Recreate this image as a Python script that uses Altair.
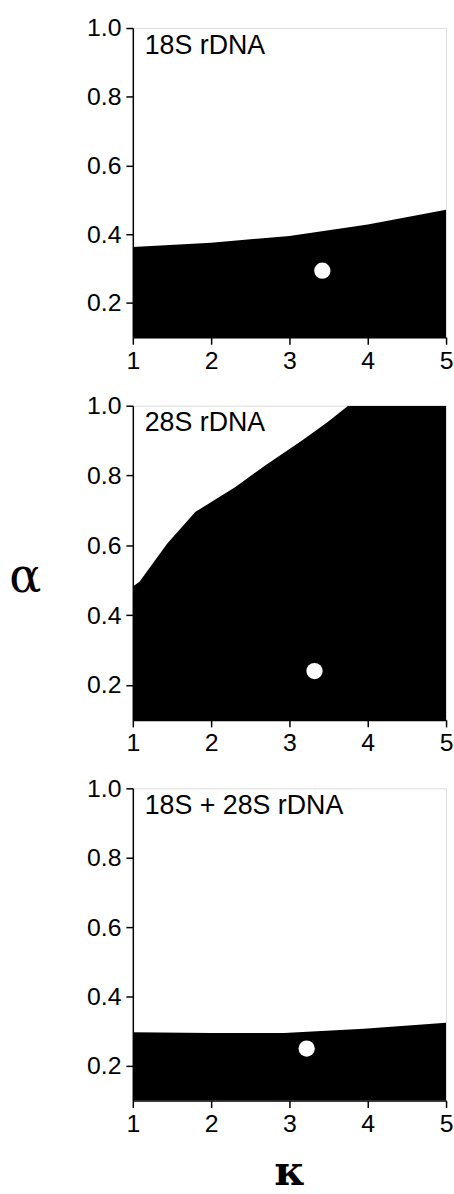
import altair as alt
import pandas as pd

# Panel 1: 18S rDNA
k1 = [1.0, 2.0, 3.0, 4.0, 5.0]
a1 = [0.363, 0.375, 0.395, 0.428, 0.471]
dot1 = (3.42, 0.294)

# Panel 2: 28S rDNA
k2 = [1.0, 1.085, 1.44, 1.80, 2.31, 2.69, 3.16, 3.48, 3.75, 5.0]
a2 = [0.482, 0.496, 0.605, 0.696, 0.767, 0.829, 0.90, 0.952, 1.0, 1.0]
dot2 = (3.32, 0.24)

# Panel 3: 18S + 28S rDNA
k3 = [1.0, 2.0, 2.93, 3.95, 5.0]
a3 = [0.297, 0.295, 0.295, 0.307, 0.324]
dot3 = (3.22, 0.25)

labels = ["18S rDNA", "28S rDNA", "18S + 28S rDNA"]
x_ticks = [1, 2, 3, 4, 5]
y_ticks = [0.2, 0.4, 0.6, 0.8, 1.0]

SANS = "Liberation Sans"
SERIF = "DejaVu Serif"


def panel(ks, als, dot, label, height, ytitle=None, xtitle=None):
    df = pd.DataFrame({"k": ks, "a": als, "base": [0.1] * len(ks)})
    ddf = pd.DataFrame({"k": [dot[0]], "a": [dot[1]]})
    xaxis_kw = dict(values=x_ticks, format="d", grid=False, labelFont=SANS,
                    labelFontSize=25, labelColor="black", tickColor="black",
                    domainColor="black", tickSize=7, labelPadding=4,
                    domainWidth=1.5, tickWidth=1.5, labelFlush=False)
    if xtitle:
        xaxis_kw.update(title=xtitle, titleFont=SERIF, titleFontSize=42,
                        titleFontWeight="bold", titlePadding=16, titleColor="black")
    else:
        xaxis_kw.update(title=None)
    yaxis_kw = dict(values=y_ticks, format=".1f", grid=False, labelFont=SANS,
                    labelFontSize=25, labelColor="black", tickColor="black",
                    domainColor="black", tickSize=7, labelPadding=5,
                    domainWidth=1.5, tickWidth=1.5, labelFlush=False)
    if ytitle:
        yaxis_kw.update(title=ytitle, titleFont=SERIF, titleFontSize=48,
                        titleFontWeight="normal", titleAngle=0, titleAlign="center",
                        titleBaseline="middle", titleX=-109, titleY=173,
                        titleColor="black")
    else:
        yaxis_kw.update(title=None)

    x = alt.X("k:Q", scale=alt.Scale(domain=[1, 5], nice=False), axis=alt.Axis(**xaxis_kw))
    y = alt.Y("a:Q", scale=alt.Scale(domain=[0.1, 1.0], nice=False, zero=False),
              axis=alt.Axis(**yaxis_kw))

    area = alt.Chart(df).mark_area(color="black", opacity=1, clip=True).encode(
        x=x, y=y, y2="base:Q"
    )
    pt = alt.Chart(ddf).mark_point(filled=True, color="white", opacity=1, size=270,
                                   shape="circle").encode(x="k:Q", y="a:Q")
    txt = alt.Chart(pd.DataFrame({"t": [label]})).mark_text(
        align="left", baseline="alphabetic", font=SANS, fontSize=27, color="black"
    ).encode(x=alt.value(12), y=alt.value(26), text="t:N")
    return alt.layer(area, pt, txt).properties(width=316, height=height)


p1 = panel(k1, a1, dot1, labels[0], 312)
p2 = panel(k2, a2, dot2, labels[1], 317, ytitle="α")
p3 = panel(k3, a3, dot3, labels[2], 315, xtitle="κ")

chart = alt.vconcat(p1, p2, p3, spacing=19).properties(
    padding={"left": 8, "top": 10, "right": 0, "bottom": 0}
).configure_view(stroke="black", strokeWidth=1.5).configure(background="white")

chart.save("out.html", embed_options={"renderer": "svg", "actions": False})
